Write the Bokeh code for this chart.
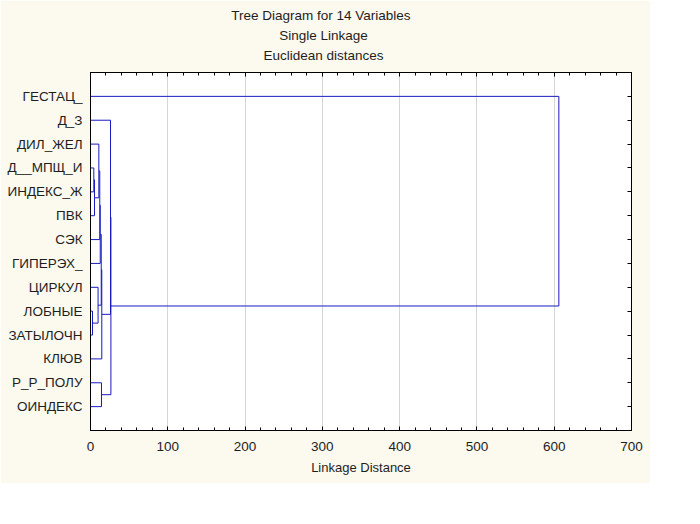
from bokeh.plotting import figure
from bokeh.models import ColumnDataSource, Range1d, LinearAxis, FixedTicker, SingleIntervalTicker, Title
from bokeh.embed import file_html
from bokeh.resources import INLINE

# ---- data ----
variables = ["ГЕСТАЦ_", "Д_З", "ДИЛ_ЖЕЛ", "Д__МПЩ_И", "ИНДЕКС_Ж", "ПВК", "СЭК",
             "ГИПЕРЭХ_", "ЦИРКУЛ", "ЛОБНЫЕ", "ЗАТЫЛОЧН", "КЛЮВ", "Р_Р_ПОЛУ", "ОИНДЕКС"]
# merges: leaves are 0..13, merge k creates cluster 14+k
merge_left = [9, 3, 15, 8, 2, 18, 19, 20, 12, 21, 1, 24, 0]
merge_right = [10, 4, 5, 14, 16, 6, 7, 17, 13, 11, 23, 22, 25]
merge_dist = [2.6, 4.3, 5.2, 9.8, 10.8, 12.0, 12.6, 13.9, 14.2, 14.6, 25.9, 26.4, 606.0]
x_tick_step = 100
x_max = 700

title_lines = ["Tree Diagram for 14  Variables", "Single Linkage", "Euclidean distances"]
x_label = "Linkage Distance"

# ---- build dendrogram segments ----
n = len(variables)
pos = {i: float(i + 1) for i in range(n)}
height = {i: 0.0 for i in range(n)}
x0, y0, x1, y1 = [], [], [], []
for k, (a, b, d) in enumerate(zip(merge_left, merge_right, merge_dist)):
    ya, yb = pos[a], pos[b]
    x0 += [height[a], height[b], d]
    y0 += [ya, yb, ya]
    x1 += [d, d, d]
    y1 += [ya, yb, yb]
    pos[n + k] = (ya + yb) / 2.0
    height[n + k] = d

src = ColumnDataSource(dict(x0=x0, y0=y0, x1=x1, y1=y1))

FONT = "Liberation Sans"
CREAM = "#fcf9ef"
TXT = "#1e1e1e"

p = figure(width=650, height=483, x_range=Range1d(0, x_max), y_range=Range1d(n + 1, 0),
           output_backend="svg", toolbar_location=None,
           min_border_left=90, min_border_right=19, min_border_top=72, min_border_bottom=53,
           x_axis_location="below", y_axis_location="left")
p.border_fill_color = CREAM
p.background_fill_color = "white"
p.outline_line_color = "black"
p.outline_line_width = 1

p.segment("x0", "y0", "x1", "y1", source=src, line_color="#1a1ac0", line_width=1)

leaf_ticks = list(range(1, n + 1))

# bottom axis
xa = p.xaxis[0]
xa.ticker = SingleIntervalTicker(interval=x_tick_step, num_minor_ticks=5)
xa.axis_label = x_label
xa.axis_label_text_font = FONT
xa.axis_label_text_font_style = "normal"
xa.axis_label_text_font_size = "13px"
xa.axis_label_text_color = TXT
xa.axis_label_standoff = 6
xa.major_label_text_font = FONT
xa.major_label_text_font_size = "13.5px"
xa.major_label_text_color = TXT
xa.major_label_standoff = 11
xa.major_tick_in = 4
xa.major_tick_out = 0
xa.minor_tick_in = 3
xa.minor_tick_out = 0
xa.axis_line_color = "black"
xa.major_tick_line_color = "black"
xa.minor_tick_line_color = "black"

# left axis
ya_ = p.yaxis[0]
ya_.ticker = FixedTicker(ticks=leaf_ticks)
ya_.major_label_overrides = {i + 1: v for i, v in enumerate(variables)}
ya_.major_label_text_font = FONT
ya_.major_label_text_font_size = "13.5px"
ya_.major_label_text_color = TXT
ya_.major_label_standoff = 8
ya_.major_tick_in = 0
ya_.major_tick_out = 0
ya_.minor_tick_in = 0
ya_.minor_tick_out = 0
ya_.axis_line_color = "black"

# top axis (ticks only)
top = LinearAxis(ticker=SingleIntervalTicker(interval=x_tick_step, num_minor_ticks=5),
                 major_label_text_alpha=0, major_label_text_font_size="1px",
                 major_tick_in=4, major_tick_out=0, minor_tick_in=3, minor_tick_out=0,
                 axis_line_color="black", major_tick_line_color="black",
                 minor_tick_line_color="black", major_label_standoff=0)
p.add_layout(top, "above")

# right axis (ticks only)
right = LinearAxis(ticker=FixedTicker(ticks=leaf_ticks),
                   major_label_text_alpha=0, major_label_text_font_size="1px",
                   major_tick_in=4, major_tick_out=0, minor_tick_in=0, minor_tick_out=0,
                   axis_line_color="black", major_tick_line_color="black", major_label_standoff=0)
p.add_layout(right, "right")

p.xgrid.grid_line_color = "#d6d6d6"
p.ygrid.grid_line_color = None

# blank spacer between the frame and the titles
p.add_layout(Title(text=" ", text_font_size="1px", standoff=5), "above")

# titles: centred at x = 323 px on the page, i.e. 233 px right of the frame's left edge
TITLE_SIZE = 13.5
EM = {"T": .611, "r": .333, "e": .556, " ": .278, "D": .722, "i": .222, "a": .556, "g": .556,
      "m": .833, "f": .278, "o": .556, "1": .556, "4": .556, "V": .667, "b": .556, "l": .222,
      "s": .5, "S": .667, "n": .556, "L": .556, "k": .5, "E": .667, "u": .556, "c": .5,
      "d": .556, "t": .278}
for t in reversed(title_lines):
    w = sum(EM.get(ch, .556) for ch in t) * TITLE_SIZE
    p.add_layout(Title(text=t, align="left", offset=233 - w / 2, standoff=2.5,
                       text_font=FONT, text_font_size=f"{TITLE_SIZE}px",
                       text_font_style="normal", text_color=TXT), "above")

open("out.html", "w").write(file_html(p, INLINE))
